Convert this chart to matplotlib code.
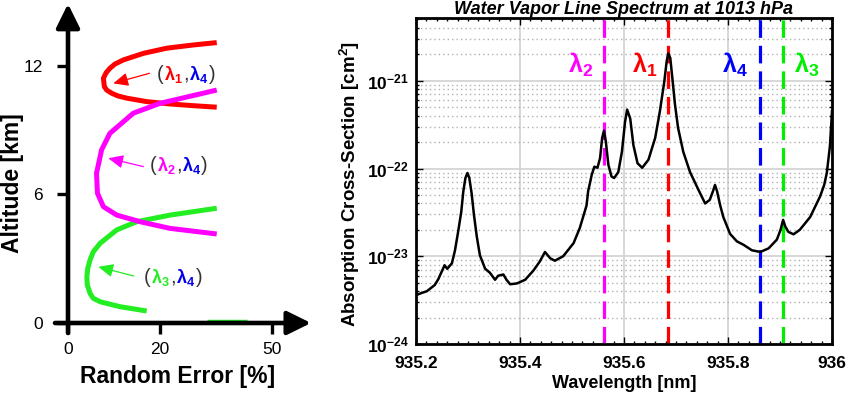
import numpy as np
import matplotlib
matplotlib.use("Agg")
import matplotlib.pyplot as plt
from matplotlib.ticker import (MultipleLocator, LogLocator, FixedLocator,
                               LogFormatterSciNotation, NullFormatter, NullLocator)
import matplotlib.transforms as mtransforms

plt.rcParams['font.family'] = ['Liberation Sans', 'DejaVu Sans']
plt.rcParams['mathtext.fontset'] = 'custom'
plt.rcParams['mathtext.rm'] = 'Liberation Sans:bold'
plt.rcParams['mathtext.bf'] = 'Liberation Sans:bold'
plt.rcParams['mathtext.it'] = 'Liberation Sans'
plt.rcParams['mathtext.default'] = 'rm'

# ---------------- data: left panel (random error profiles) ----------------
red_err = [35.2, 28.9, 21.8, 16.4, 12.0, 10.2, 9.1, 8.3, 7.7, 7.9, 8.4, 9.5, 10.9, 12.8,
           17.1, 22.7, 28.9, 35.2]
red_alt = [13.07, 12.96, 12.81, 12.57, 12.26, 12.07, 11.87, 11.67, 11.41, 11.02, 10.86,
           10.71, 10.58, 10.48, 10.32, 10.21, 10.13, 10.06]

mag_err = [35.2, 20.0, 14.2, 9.1, 7.3, 6.2, 6.4, 7.7, 10.6, 15.7, 22.7, 35.2]
mag_alt = [10.86, 10.24, 9.78, 8.84, 8.07, 6.98, 6.05, 5.42, 5.03, 4.72, 4.41, 4.15]

grn_err = [35.2, 22.7, 14.9, 10.6, 7.0, 5.5, 4.8, 4.3, 4.1, 4.2, 4.8, 5.5, 7.0, 11.3, 17.1]
grn_alt = [5.35, 5.03, 4.72, 4.34, 3.72, 3.32, 2.94, 2.55, 2.16, 1.77, 1.38, 1.15, 0.99,
           0.76, 0.56]

grn_tail_err = [32.6, 43.3]
grn_tail_alt = [0.09, 0.09]

alt_ticks = [0, 6, 12]
err_ticks = [0, 20, 50]

# ---------------- data: right panel (water vapour spectrum) ----------------
wavelength = [935.200, 935.210, 935.221, 935.236, 935.243, 935.249, 935.255, 935.260,
              935.269, 935.275, 935.281, 935.287, 935.291, 935.295, 935.299, 935.3025,
              935.307, 935.3115, 935.317, 935.323, 935.333, 935.342, 935.352, 935.358,
              935.368, 935.374, 935.381, 935.394, 935.410, 935.426, 935.438, 935.448,
              935.458, 935.467, 935.483, 935.503, 935.515, 935.528, 935.531, 935.538,
              935.543, 935.549, 935.554, 935.558, 935.5615, 935.565, 935.570, 935.576,
              935.581, 935.589, 935.596, 935.602, 935.606, 935.612, 935.618, 935.626,
              935.635, 935.647, 935.660, 935.669, 935.6775, 935.682, 935.685, 935.689,
              935.693, 935.698, 935.704, 935.714, 935.727, 935.743, 935.756, 935.765,
              935.771, 935.775, 935.779, 935.785, 935.791, 935.804, 935.817, 935.830,
              935.846, 935.862, 935.878, 935.894, 935.901, 935.906, 935.910, 935.916,
              935.926, 935.938, 935.958, 935.977, 935.985, 935.990, 935.996, 936.000]
cross_section = [3.6e-24, 3.8e-24, 4.0e-24, 4.7e-24, 5.5e-24, 6.6e-24, 7.9e-24, 7.2e-24,
                 8.3e-24, 1.17e-23, 1.9e-23, 3.2e-23, 5.5e-23, 7.8e-23, 8.9e-23, 7.8e-23,
                 5.2e-23, 2.95e-23, 1.66e-23, 1.02e-23, 7.2e-24, 6.5e-24, 5.4e-24, 6.0e-24,
                 6.2e-24, 5.4e-24, 4.8e-24, 4.9e-24, 5.4e-24, 6.9e-24, 8.7e-24, 1.12e-23,
                 9.5e-24, 8.9e-24, 1.0e-23, 1.41e-23, 2.1e-23, 3.8e-23, 5.5e-23, 8.5e-23,
                 1.05e-22, 1.02e-22, 1.32e-22, 2.24e-22, 2.7e-22, 2.04e-22, 1.1e-22, 8.1e-23,
                 7.8e-23, 9.1e-23, 1.55e-22, 3.4e-22, 4.7e-22, 3.7e-22, 1.86e-22, 1.15e-22,
                 1.02e-22, 1.26e-22, 2.24e-22, 4.5e-22, 9.8e-22, 1.66e-21, 2.05e-21, 1.82e-21,
                 1.07e-21, 5.4e-22, 2.9e-22, 1.55e-22, 9.1e-23, 5.75e-23, 4.0e-23, 4.4e-23,
                 5.5e-23, 6.5e-23, 5.5e-23, 3.8e-23, 2.8e-23, 1.8e-23, 1.48e-23, 1.35e-23,
                 1.17e-23, 1.12e-23, 1.23e-23, 1.55e-23, 2.0e-23, 2.6e-23, 2.2e-23, 1.9e-23,
                 1.78e-23, 2.0e-23, 2.8e-23, 4.8e-23, 6.5e-23, 8.9e-23, 1.8e-22, 4.5e-22]

line_names = [r'$\lambda_2$', r'$\lambda_1$', r'$\lambda_4$', r'$\lambda_3$']
line_wl = [935.5615, 935.685, 935.861, 935.906]
line_colors = ['#ff00ff', '#ff0000', '#0000ff', '#00ee00']
label_wl = [935.517, 935.640, 935.813, 935.951]

wl_ticks = [935.2, 935.4, 935.6, 935.8, 936.0]
wl_ticklabels = ['935.2', '935.4', '935.6', '935.8', '936']
cs_ticks = [1e-24, 1e-23, 1e-22, 1e-21]

RED, MAG, GRN, BLU = '#ff0000', '#ff00ff', '#22ee22', '#0000ee'
PAREN = '#333333'

fig = plt.figure(figsize=(8.5, 3.94), dpi=100)
renderer = fig.canvas.get_renderer()

# ======================= LEFT PANEL =======================
axL = fig.add_axes([68 / 850, 71 / 394, 243 / 850, 316 / 394])


def fwd(x):
    x = np.asarray(x, dtype=float)
    return np.where(x <= 20, x * 4.6, 92 + (x - 20) * 3.733)


def inv(p):
    p = np.asarray(p, dtype=float)
    return np.where(p <= 92, p / 4.6, 20 + (p - 92) / 3.733)


axL.set_xscale('function', functions=(fwd, inv))
axL.set_xlim(0, 60.45)
axL.set_ylim(0, 14.73)
for s in axL.spines.values():
    s.set_visible(False)
axL.patch.set_alpha(0)

curve_kw = dict(lw=3.6, solid_capstyle='butt', solid_joinstyle='round')
axL.plot(grn_tail_err, grn_tail_alt, color=GRN, lw=2.5, zorder=1, solid_capstyle='butt')
axL.plot(red_err, red_alt, color=RED, zorder=3, **curve_kw)
axL.plot(mag_err, mag_alt, color=MAG, zorder=3, **curve_kw)
axL.plot(grn_err, grn_alt, color=GRN, zorder=2, **curve_kw)

axL.set_xticks(err_ticks)
axL.set_xticklabels([str(v) for v in err_ticks])
axL.set_yticks(alt_ticks)
axL.set_yticklabels([str(v) for v in alt_ticks])
axL.xaxis.set_minor_locator(NullLocator())
axL.yaxis.set_minor_locator(NullLocator())
axL.tick_params(axis='both', direction='out', length=8, width=2.4, color='black',
                labelsize=12.5)
axL.tick_params(axis='x', pad=6)
axL.tick_params(axis='y', pad=10)

axis_arrow = dict(arrowstyle='-|>,head_length=0.85,head_width=0.42', lw=3.3,
                  color='black', shrinkA=0, shrinkB=0, mutation_scale=17)
axL.annotate('', xy=(1.0, 0), xytext=(-13 / 243, 0), xycoords='axes fraction',
             arrowprops=axis_arrow, annotation_clip=False, zorder=5)
axL.annotate('', xy=(0, 1.01), xytext=(0, -10 / 316), xycoords='axes fraction',
             arrowprops=axis_arrow, annotation_clip=False, zorder=5)

fig.text(177.5 / 850, 1 - 377 / 394, 'Random Error [%]', ha='center', va='center',
         fontsize=16.5, fontweight='bold')
fig.text(12.5 / 850, 1 - 183 / 394, 'Altitude [km]', ha='center', va='center',
         rotation=90, fontsize=16.5, fontweight='bold')


def pair_label(ax, x, y, color1, idx):
    pieces = [('(', PAREN, 'normal'),
              (r'$\lambda_{%s}$' % idx, color1, 'bold'),
              (',', PAREN, 'normal'),
              (r'$\lambda_{4}$', BLU, 'bold'),
              (')', PAREN, 'normal')]
    off = 0.0
    for s, col, wt in pieces:
        tr = ax.transData + mtransforms.ScaledTranslation(off / fig.dpi, -6 / fig.dpi,
                                                          fig.dpi_scale_trans)
        fs = 14.5 if s in '(),' else 13
        t = ax.text(x, y, s, color=col, fontsize=fs, fontweight=wt, ha='left',
                    va='baseline', transform=tr, zorder=6)
        off += t.get_window_extent(renderer).width + 0.5


small_arrow = dict(arrowstyle='-|>,head_length=1.0,head_width=0.45', lw=0.9,
                   shrinkA=0, shrinkB=0, mutation_scale=9)
axL.annotate('', xy=(9.85, 11.17), xytext=(17.7, 11.64),
             arrowprops=dict(color=RED, **small_arrow), zorder=6)
axL.annotate('', xy=(8.76, 7.68), xytext=(16.4, 7.29),
             arrowprops=dict(color=MAG, **small_arrow), zorder=6)
axL.annotate('', xy=(6.6, 2.62), xytext=(14.3, 2.19),
             arrowprops=dict(color=GRN, **small_arrow), zorder=6)

pair_label(axL, 19.3, 11.61, RED, '1')
pair_label(axL, 17.7, 7.37, MAG, '2')
pair_label(axL, 16.4, 2.16, GRN, '3')

# ======================= RIGHT PANEL =======================
axR = fig.add_axes([416 / 850, 50 / 394, 416 / 850, 326 / 394])
axR.set_yscale('log')
axR.set_xlim(935.2, 936.0)
axR.set_ylim(1e-24, 5.2e-21)

axR.grid(True, which='major', axis='both', color='#d4d4d4', lw=1.3, ls='-', zorder=0)
axR.grid(True, which='minor', axis='y', color='#b0b0b0', lw=1.0, ls=(0, (1, 2.2)), zorder=0)
axR.set_axisbelow(True)

for wl, col in zip(line_wl, line_colors):
    axR.axvline(wl, color=col, lw=2.3, ls=(0, (5.5, 2.5)), zorder=2)

axR.plot(wavelength, cross_section, color='black', lw=1.8, zorder=3,
         solid_joinstyle='round')

trans = mtransforms.blended_transform_factory(axR.transData, axR.transAxes)
for name, x, col in zip(line_names, label_wl, line_colors):
    axR.text(x, 0.855, name, transform=trans, color=col, fontsize=18,
             ha='center', va='center', zorder=4)

axR.set_xticks(wl_ticks)
axR.set_xticklabels(wl_ticklabels)
axR.xaxis.set_minor_locator(MultipleLocator(0.02))
axR.yaxis.set_major_locator(FixedLocator(cs_ticks))
axR.yaxis.set_minor_locator(LogLocator(base=10, subs=np.arange(2, 10), numticks=20))
axR.yaxis.set_major_formatter(LogFormatterSciNotation())
axR.yaxis.set_minor_formatter(NullFormatter())
axR.tick_params(which='both', direction='in', top=True, right=True, width=1.0)
axR.tick_params(which='major', length=5, labelsize=12.5)
axR.tick_params(axis='y', which='major', pad=5)
axR.tick_params(axis='x', which='major', pad=9)
axR.tick_params(which='minor', length=2.5)
for lab in axR.get_xticklabels() + axR.get_yticklabels():
    lab.set_fontweight('bold')
for s in axR.spines.values():
    s.set_linewidth(2.0)
    s.set_zorder(5)

axR.set_xlabel('Wavelength [nm]', fontsize=13, fontweight='bold')
axR.xaxis.set_label_coords(0.5, -0.095)
axR.set_ylabel('Absorption Cross-Section [cm$^2$]', fontsize=13.5, fontweight='bold')
axR.yaxis.set_label_coords(-0.13, 0.49)
axR.text(0.5, 1.025, 'Water Vapor Line Spectrum at 1013 hPa', transform=axR.transAxes,
         ha='center', va='center', fontsize=13, fontweight='bold', fontstyle='italic')

fig.savefig('out.png', dpi=100)
